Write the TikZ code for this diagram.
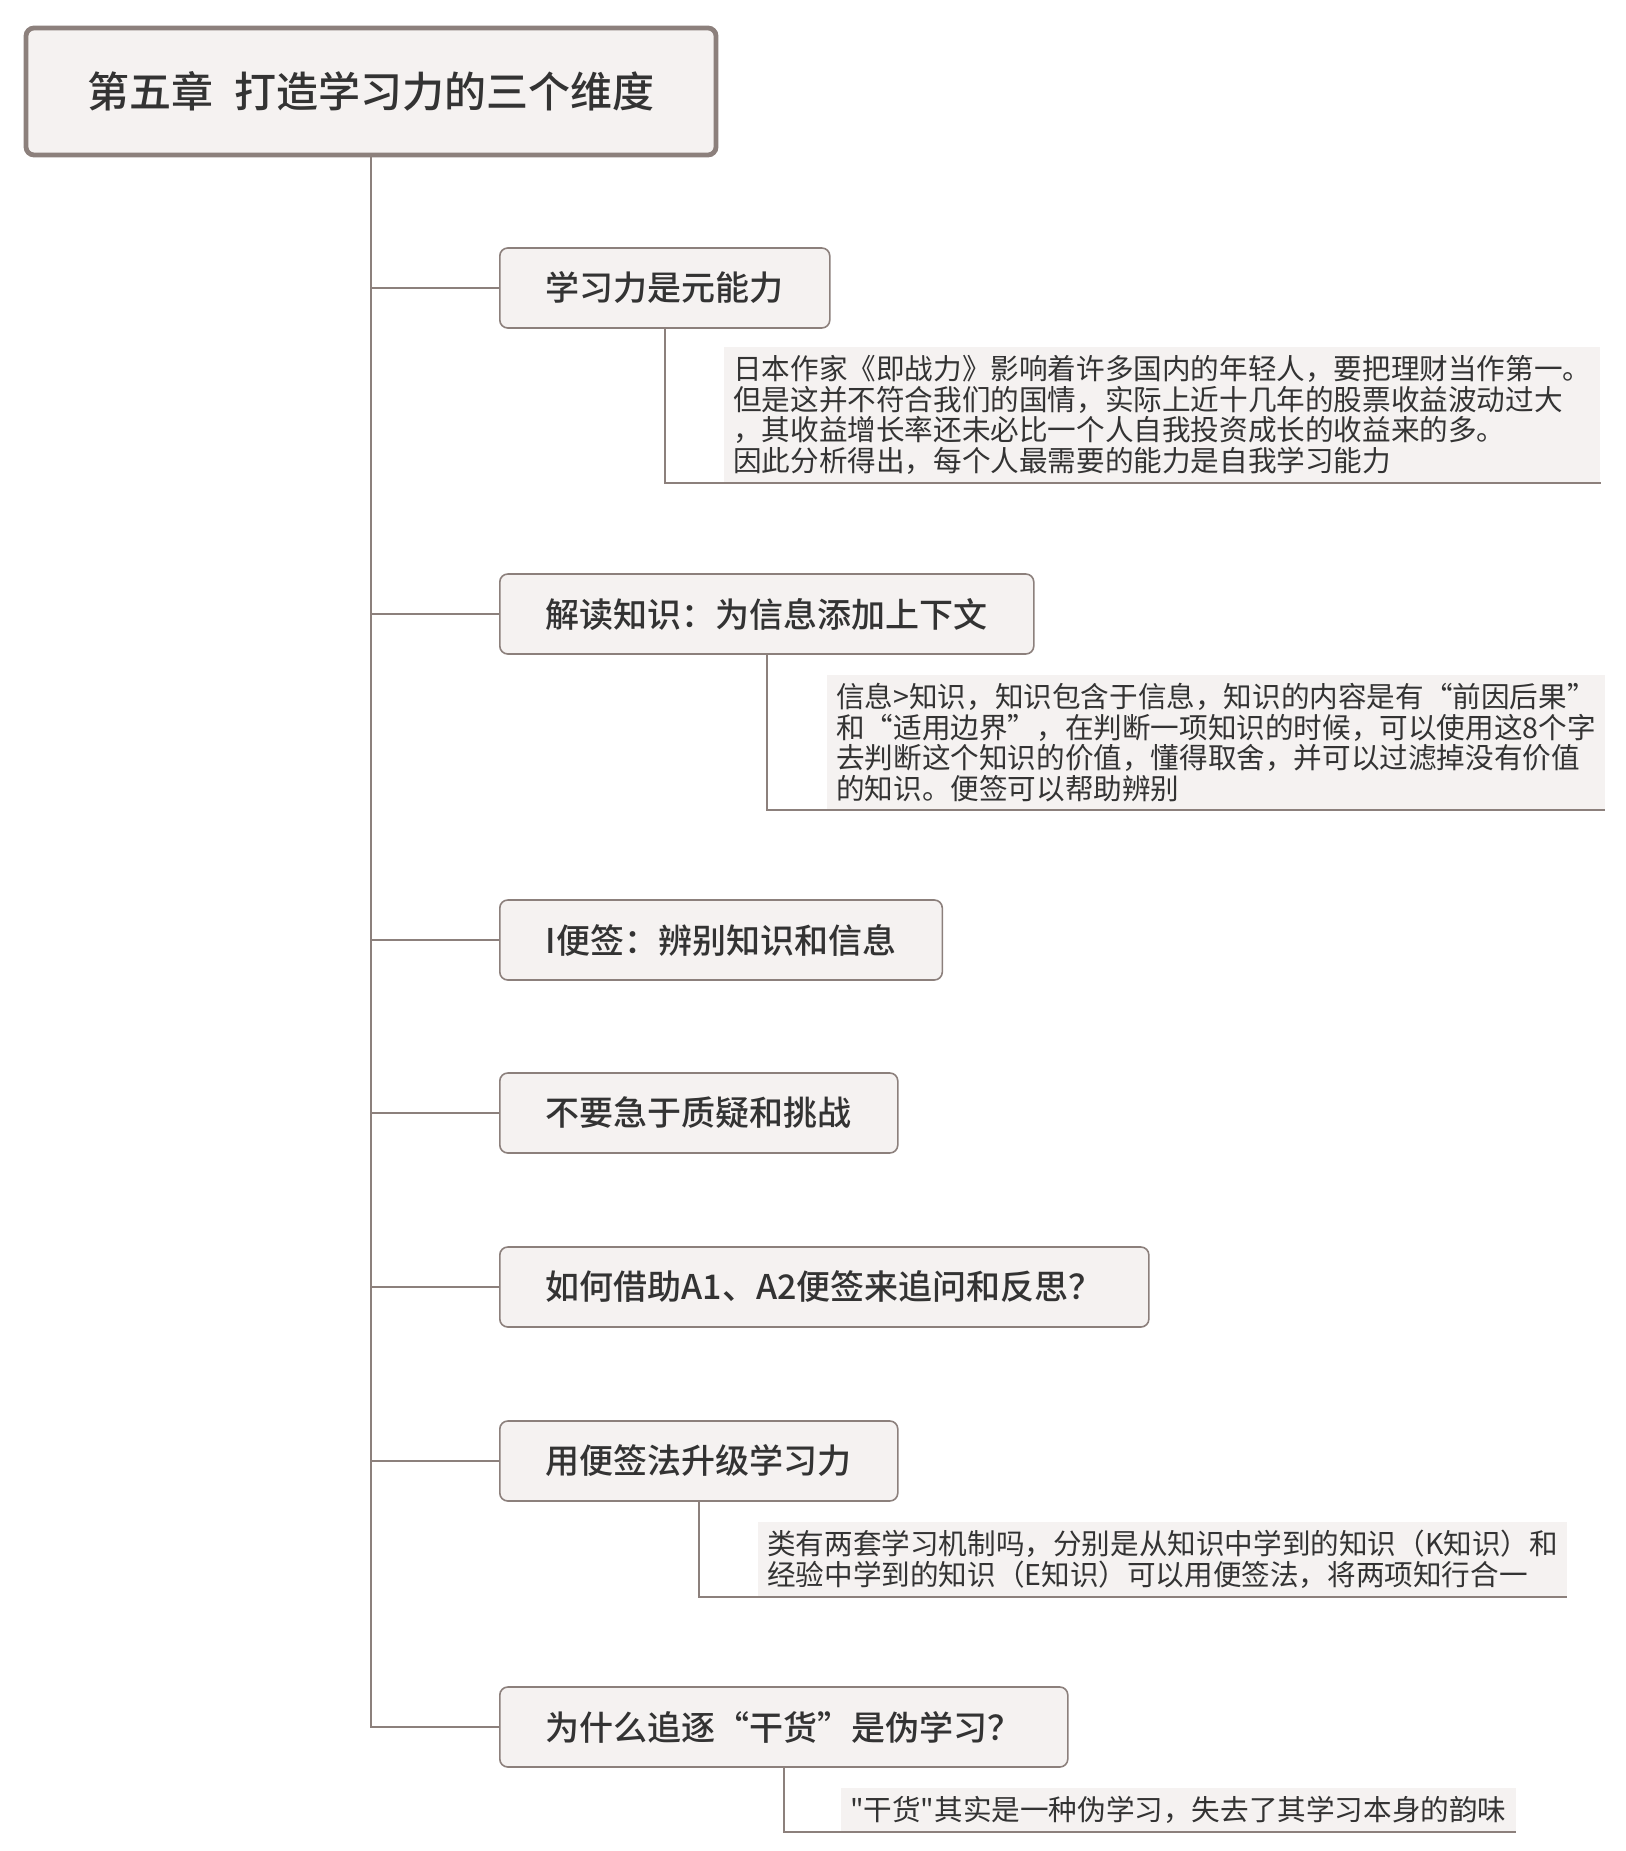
\documentclass[tikz,border=0pt]{standalone}
\usepackage{fontspec}
\setmainfont{Noto Sans CJK SC}[Ligatures=TeXOff]
\newfontfamily\topicfont{Noto Sans CJK SC Medium}
\usetikzlibrary{positioning,calc}
\definecolor{linegray}{RGB}{140,128,124}
\definecolor{boxfill}{RGB}{245,242,241}
\definecolor{textgray}{RGB}{51,51,51}
\tikzset{
  rootbox/.style={rectangle, draw=linegray, line width=2.4pt, fill=boxfill, rounded corners=4pt, minimum width=345pt, minimum height=63.5pt, font=\fontsize{21}{25}\selectfont\topicfont, text=textgray},
  topic/.style={rectangle, draw=linegray, line width=0.8pt, fill=boxfill, rounded corners=4pt, minimum height=40pt, inner xsep=23pt, font=\fontsize{17}{20}\selectfont\topicfont, text=textgray, anchor=west},
  note/.style={fill=boxfill, inner xsep=4.5pt, inner ysep=4pt, align=left, font=\fontsize{14.3}{15.35}\selectfont, text=textgray, anchor=north west},
  link/.style={draw=linegray, line width=1.2pt},
  underline/.style={draw=linegray, line width=1pt}
}
\begin{document}
\begin{tikzpicture}[x=0.5pt,y=-0.5pt]
  \useasboundingbox (0,0) rectangle (1626,1851);
  \node[rootbox] (root) at (371,91.5) {第五章\hspace{0.5em}打造学习力的三个维度};
  \node[topic] (t1) at (499,288) {学习力是元能力};
  \node[topic] (t2) at (499,614) {解读知识：为信息添加上下文};
  \node[topic] (t3) at (499,940) {I便签：辨别知识和信息};
  \node[topic] (t4) at (499,1113) {不要急于质疑和挑战};
  \node[topic] (t5) at (499,1287) {如何借助A1、A2便签来追问和反思？};
  \node[topic] (t6) at (499,1461) {用便签法升级学习力};
  \node[topic] (t7) at (499,1727) {为什么追逐“干货”是伪学习？};
  \foreach \t in {t1,t2,t3,t4,t5,t6,t7}
    \draw[link] (root.south) |- (\t.west);
  % notes under the topics
  \node[note] (n1) at ($(t1.south)+(59,18)$) {日本作家《即战力》影响着许多国内的年轻人，要把理财当作第一。\\但是这并不符合我们的国情，实际上近十几年的股票收益波动过大\\，其收益增长率还未必比一个人自我投资成长的收益来的多。\\因此分析得出，每个人最需要的能力是自我学习能力};
  \node[note] (n2) at ($(t2.south)+(60,20)$) {信息>知识，知识包含于信息，知识的内容是有“前因后果”\\和“适用边界”，在判断一项知识的时候，可以使用这8个字\\去判断这个知识的价值，懂得取舍，并可以过滤掉没有价值\\的知识。便签可以帮助辨别};
  \node[note] (n6) at ($(t6.south)+(59,20)$) {类有两套学习机制吗，分别是从知识中学到的知识（K知识）和\\经验中学到的知识（E知识）可以用便签法，将两项知行合一};
  \node[note] (n7) at ($(t7.south)+(57,20)$) {"干货"其实是一种伪学习，失去了其学习本身的韵味};
  \draw[underline] (t1.south) |- (n1.south east);
  \draw[underline] (t2.south) |- (n2.south east);
  \draw[underline] (t6.south) |- (n6.south east);
  \draw[underline] (t7.south) |- (n7.south east);
\end{tikzpicture}
\end{document}
